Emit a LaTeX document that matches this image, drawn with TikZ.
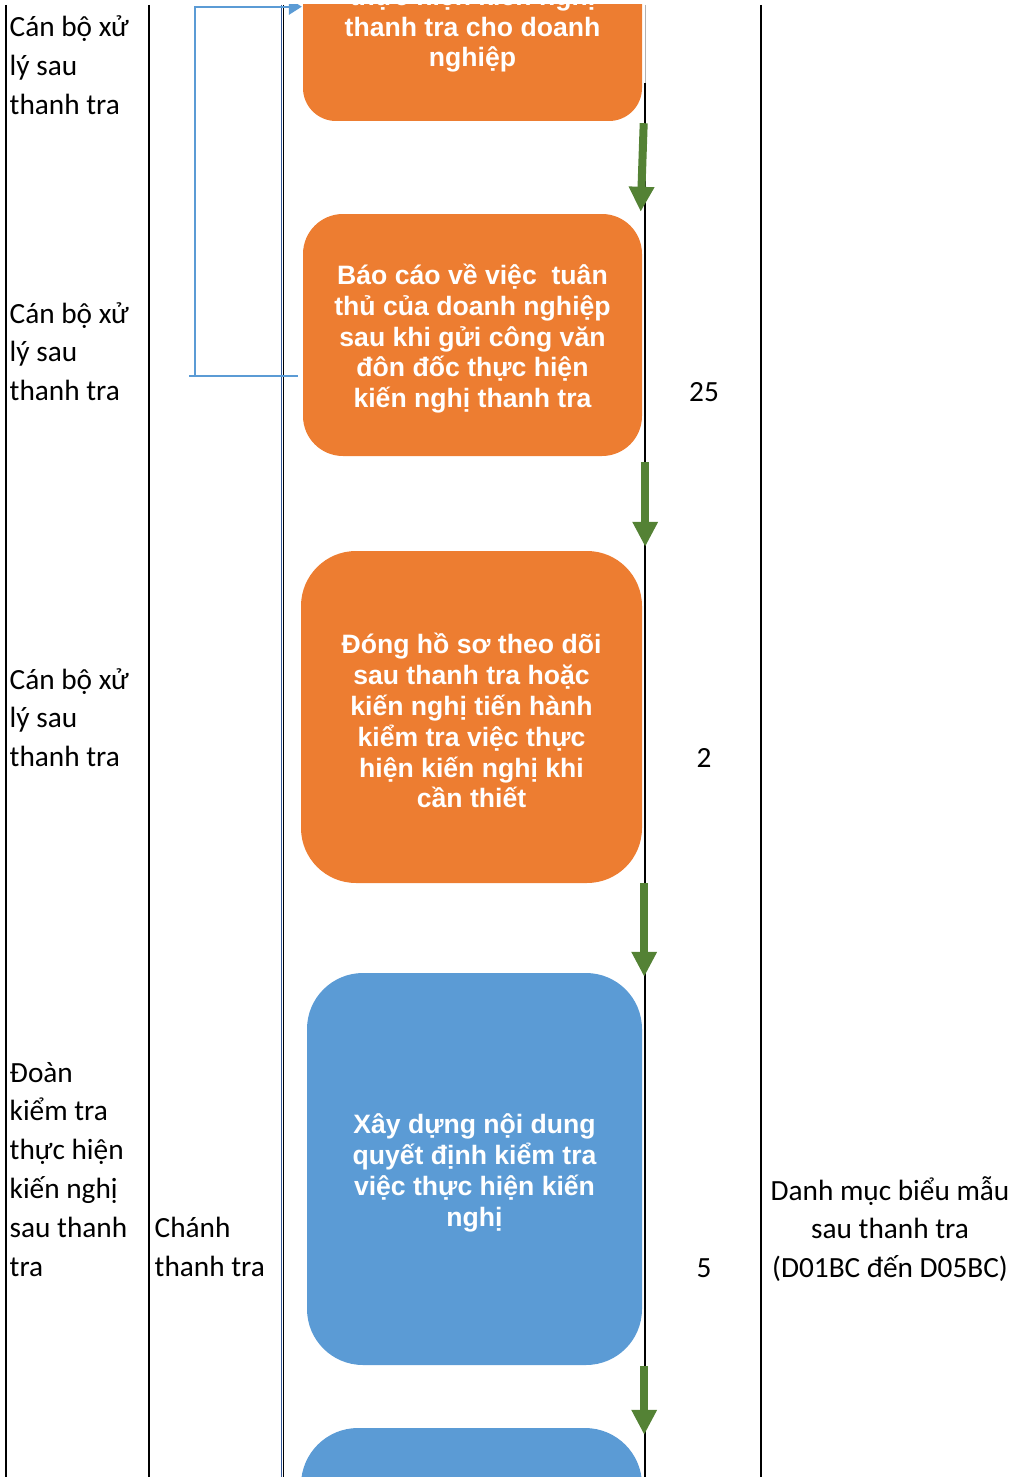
\documentclass[tikz,border=0pt]{standalone}
\usepackage{fontspec}
\setmainfont{Carlito}
\newfontfamily\boxfont{Liberation Sans}
\usetikzlibrary{arrows.meta}
\definecolor{stepOrange}{HTML}{ED7D31}
\definecolor{stepBlue}{HTML}{5B9BD5}
\definecolor{flowGreen}{HTML}{548235}
\definecolor{edgeBlue}{HTML}{2F5597}
\newcommand{\topstrut}{\rule{0pt}{28pt}}
\begin{document}
\begin{tikzpicture}[x=1pt,y=-1pt,
    every node/.style={inner sep=0pt},
    cell/.style={font=\fontsize{29.3}{38.8}\selectfont, align=left, anchor=base west},
    num/.style={font=\fontsize{29.3}{38.8}\selectfont, anchor=base},
    task/.style={text=white, font=\boxfont\bfseries\fontsize{26.6}{30.8}\selectfont, align=center},
    gridline/.style={black, line width=2.6pt},
    flow/.style={flowGreen, line width=8pt, -{Triangle[width=24pt,length=25pt]}},
    loopline/.style={stepBlue, line width=2pt}]
    \useasboundingbox (0,0) rectangle (1023,1477);
    \clip (0,5) rectangle (1023,1477);
    \draw [gridline] (6,5) -- (6,1477);
    \draw [gridline] (149,5) -- (149,1477);
    \draw [edgeBlue, line width=1pt] (281,5) -- (281,1477);
    \draw [black, line width=1.6pt] (283.5,5) -- (283.5,1477);
    \draw [black!30, line width=1pt] (645,5) -- (645,83);
    \draw [gridline] (645,83) -- (645,1477);
    \draw [gridline] (761,5) -- (761,1477);
    \node [task, fill=stepOrange, rounded corners=33pt, minimum width=339pt, minimum height=192pt] (b1) at (472.5,25) {\topstrut thực hiện kiến nghị\\thanh tra cho doanh\\nghiệp};
    \node [task, fill=stepOrange, rounded corners=40pt, minimum width=339pt, minimum height=242pt] (b2) at (472.5,335) {\topstrut Báo cáo về việc\ \ tuân\\thủ của doanh nghiệp\\sau khi gửi công văn\\đôn đốc thực hiện\\kiến nghị thanh tra};
    \node [task, fill=stepOrange, rounded corners=55pt, minimum width=341pt, minimum height=332pt] (b3) at (471.5,717) {\topstrut Đóng hồ sơ theo dõi\\sau thanh tra hoặc\\kiến nghị tiến hành\\kiểm tra việc thực\\hiện kiến nghị khi\\cần thiết};
    \node [task, fill=stepBlue, rounded corners=56pt, minimum width=335pt, minimum height=392pt] (b4) at (474.5,1169) {\topstrut Xây dựng nội dung\\quyết định kiểm tra\\việc thực hiện kiến\\nghị};
    \node [task, fill=stepBlue, rounded corners=57pt, minimum width=341pt, minimum height=300pt] (b5) at (471.5,1578) {};
    \draw [flow] ([xshift=1.5pt,yshift=-2pt]b1.south east) -- ([xshift=-1.5pt,yshift=2pt]b2.north east);
    \draw [flow] ([xshift=3pt,yshift=-6pt]b2.south east) -- ([xshift=3pt,yshift=4pt]b3.north east);
    \draw [flow] ([xshift=2pt]b3.south east) -- ([xshift=2pt,yshift=-4pt]b4.north east);
    \draw [flow] ([xshift=2pt,yshift=-1pt]b4.south east) -- ([xshift=2pt,yshift=-7pt]b5.north east);
    \coordinate (loopcorner) at (195,375.7);
    \coordinate (looptop) at (195,6.7);
    \draw [loopline] ([xshift=-5pt,yshift=-40.7pt]b2.west) -- (189,375.7);
    \draw [loopline, -{Triangle[width=16pt,length=13pt]}] (loopcorner) -- (looptop) -- ([xshift=-1pt]looptop -| b1.west);
    \node [cell] (r1who) at (9.5,114.6) {Cán bộ xử\\lý sau\\thanh tra};
    \node [cell] (r2who) at (9.5,400.6) {Cán bộ xử\\lý sau\\thanh tra};
    \node [cell] (r3who) at (9.5,766.6) {Cán bộ xử\\lý sau\\thanh tra};
    \node [cell] (r4who) at (9.5,1276) {Đoàn\\kiểm tra\\thực hiện\\kiến nghị\\sau thanh\\tra};
    \node [cell] (r4lead) at (154.5,1276) {Chánh\\thanh tra};
    \node [num] (r2days) at (704,401) {25};
    \node [num] (r3days) at (704,767) {2};
    \node [num] (r4days) at (704,1277) {5};
    \node [cell, align=center, anchor=base] (r4form) at (890,1277.6) {Danh mục biểu mẫu\\sau thanh tra\\(D01BC đến D05BC)};
\end{tikzpicture}
\end{document}
